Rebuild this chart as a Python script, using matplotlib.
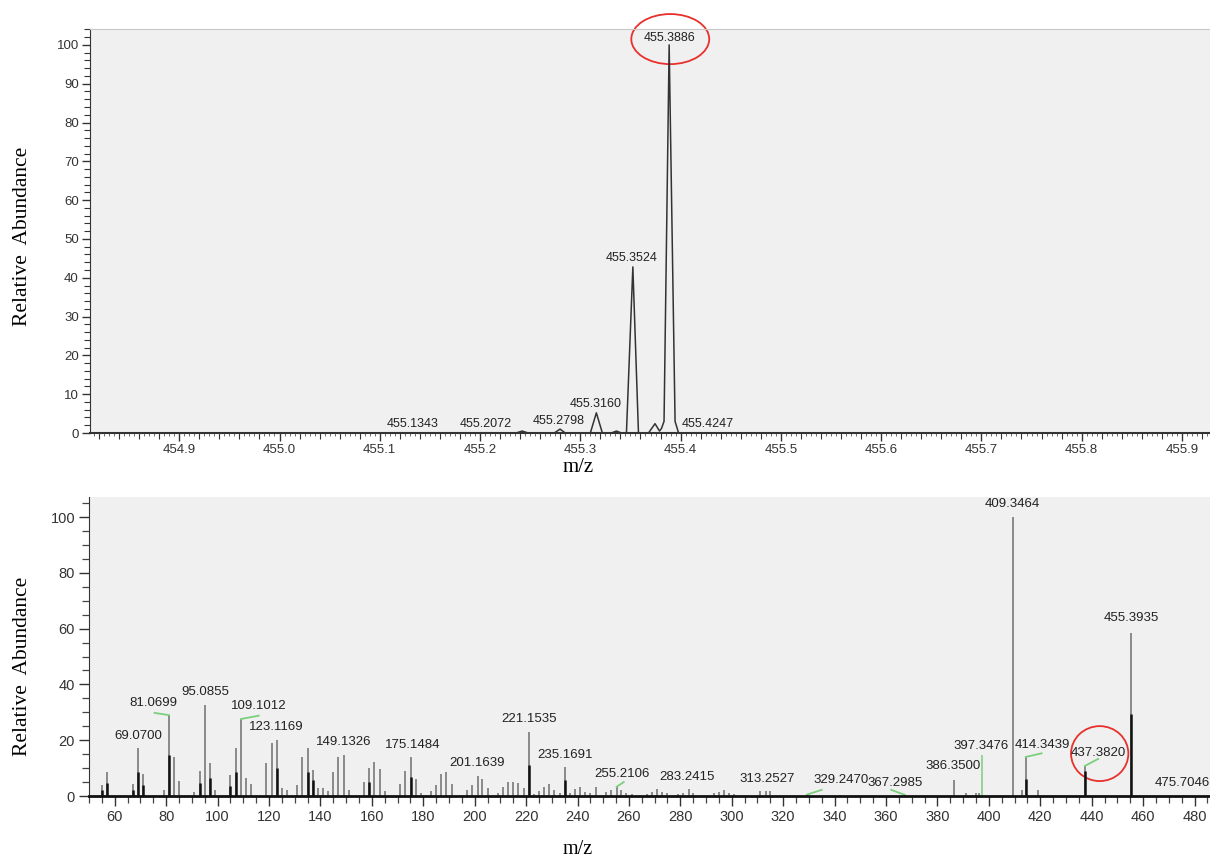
import matplotlib
matplotlib.use("Agg")
import matplotlib.pyplot as plt
import numpy as np
from matplotlib.patches import Ellipse
from matplotlib.ticker import MultipleLocator, FormatStrFormatter

# ---- full-scan profile (top panel), vertices ----
profile_mz = [454.811, 455.236, 455.242, 455.248, 455.274, 455.2798, 455.285,
              455.310, 455.3160, 455.322, 455.331, 455.336, 455.341, 455.346,
              455.3524, 455.358, 455.368, 455.3745, 455.379, 455.381, 455.3835,
              455.3886, 455.3945, 455.398, 455.928]
profile_int = [0, 0, 0.5, 0, 0, 1.0, 0,
               0, 5.2, 0, 0, 0.5, 0, 0,
               42.8, 0, 0, 2.4, 0.5, 1.2, 3.0,
               100, 3.0, 0, 0]

top_labels = ["455.1343", "455.2072", "455.2798", "455.3160", "455.3524",
              "455.3886", "455.4247"]
top_label_mz = [455.1327, 455.2054, 455.2781, 455.3150, 455.3510, 455.3887, 455.4268]
top_label_int = [2.3, 2.3, 3.2, 7.5, 45.1, 101.8, 2.3]

# ---- MS/MS spectrum (bottom panel) ----
ms2_mz = [55, 57, 67, 69.07, 71, 79, 81.07, 83, 85, 91, 93, 95.09, 97, 99,
          105, 107, 109.10, 111, 113, 119, 121, 123.12, 125, 127, 131, 133,
          135, 137, 139, 141, 143, 145, 147, 149.13, 151, 157, 159, 161, 163,
          165, 171, 173, 175.15, 177, 179, 183, 185, 187, 189, 191, 197, 199,
          201.16, 203, 205, 209, 211, 213, 215, 217, 219, 221.15, 223, 225,
          227, 229, 231, 233, 235.17, 237, 239, 241, 243, 245, 247, 251, 253,
          255.21, 257, 259, 261, 267, 269, 271, 273, 275, 279, 281, 283.24,
          285, 293, 295, 297, 299, 301, 311, 313.25, 315, 329.25, 342, 367.30,
          386.35, 391, 395, 396, 409.35, 413, 414.34, 419, 437.38, 455.39,
          475.70]
ms2_int = [3.9, 8.6, 4.3, 17.1, 7.9, 2.2, 29.0, 13.9, 5.5, 1.6, 9.1, 32.7, 11.9, 2.2,
           7.4, 17.1, 27.6, 6.6, 4.3, 11.7, 18.9, 20.1, 2.7, 2.2, 3.9, 13.9,
           17.3, 9.3, 2.7, 2.7, 1.8, 8.7, 13.9, 14.6, 2.2, 4.9, 10.0, 12.1, 9.6,
           1.9, 4.3, 9.1, 13.9, 6.1, 1.0, 1.8, 3.9, 7.8, 8.6, 4.3, 2.2, 3.9,
           7.3, 6.1, 2.7, 1.0, 3.1, 4.9, 4.9, 4.5, 2.7, 23.1, 0.7, 1.9,
           3.3, 4.4, 2.2, 1.2, 10.3, 1.0, 2.4, 3.1, 1.6, 1.2, 3.1, 1.6, 2.2,
           3.3, 2.2, 1.0, 0.7, 0.7, 1.6, 2.4, 1.6, 1.0, 0.7, 1.2, 2.6,
           1.0, 1.0, 1.4, 2.2, 1.2, 0.7, 1.7, 1.7, 1.7, 0.5, 0.5, 0.4,
           5.7, 1.2, 1.2, 1.2, 100, 2.0, 14.0, 2.0, 10.8, 58.5,
           0.3]

# darker lower part of the sticks
dark_mz = [55, 57, 67, 69.07, 71, 81.07, 93, 97, 105, 107, 123.12, 135, 137,
           159, 175.15, 221.15, 235.17, 414.34, 437.38, 455.39]
dark_int = [2.0, 4.5, 2.0, 8.7, 4.0, 14.6, 4.5, 6.3, 3.6, 8.6, 9.9, 8.7, 5.7,
            5.0, 6.9, 11.0, 5.7, 6.2, 9.0, 29.3]

# green marker line at 397.3476
green_mz = [397.35]
green_int = [14.6]

ms2_labels = ["69.0700", "81.0699", "95.0855", "109.1012", "123.1169", "149.1326",
              "175.1484", "201.1639", "221.1535", "235.1691", "255.2106", "283.2415",
              "313.2527", "329.2470", "367.2985", "386.3500", "397.3476", "409.3464",
              "414.3439", "437.3820", "455.3935", "475.7046"]
ms2_label_mz = [69.0, 74.9, 95.2, 115.9, 122.9, 149.1, 176.0, 201.0, 221.0, 235.0,
                257.3, 282.7, 313.6, 342.5, 363.5, 386.1, 397.0, 409.0, 420.9,
                442.6, 455.4, 475.4]
ms2_label_int = [21.5, 33.3, 37.3, 32.3, 24.7, 19.4, 18.3, 11.8, 27.6, 14.7,
                 7.9, 6.8, 6.1, 5.7, 4.8, 10.8, 18.0, 104.7, 18.3, 15.5, 63.8, 4.8]

# green connectors: (peak m/z, peak height) -> (point under the label)
conn_from = [(81.07, 29.0), (109.10, 27.6), (255.21, 3.3), (329.25, 0.5),
             (367.30, 0.4), (414.34, 14.0), (437.38, 10.8)]
conn_to = [(75.5, 29.8), (116.0, 28.8), (258.0, 5.0), (335.0, 2.2),
           (362.0, 2.2), (420.5, 15.3), (442.5, 13.3)]

BG = "#f0f0f0"
SANS = ["Liberation Sans", "DejaVu Sans"]
SERIF = ["Liberation Serif", "DejaVu Serif"]

fig = plt.figure(figsize=(12.1, 8.57), dpi=100)

# ------------------------------------------------------------- top panel
ax1 = fig.add_axes([90 / 1210, 1 - 433 / 857, 1120 / 1210, 404 / 857])
ax1.set_facecolor(BG)
ax1.plot(profile_mz, profile_int, color="#333333", linewidth=1.1)
ax1.set_xlim(454.811, 455.928)
ax1.set_ylim(0, 104.1)
for lab, x, y in zip(top_labels, top_label_mz, top_label_int):
    ax1.text(x, y, lab, ha="center", va="center", fontsize=9, family=SANS,
             color="#222222")
ax1.add_patch(Ellipse((455.3897, 101.5), 0.0777, 12.9, fill=False,
                      edgecolor="#e8302c", linewidth=1.3, clip_on=False))
ax1.xaxis.set_major_locator(MultipleLocator(0.1))
ax1.xaxis.set_minor_locator(MultipleLocator(0.02))
ax1.yaxis.set_major_locator(MultipleLocator(10))
ax1.yaxis.set_minor_locator(MultipleLocator(2))
ax1.xaxis.set_major_formatter(FormatStrFormatter("%.1f"))
ax1.tick_params(axis="both", which="major", direction="out", length=6, width=1,
                labelsize=9.5, color="#333333", labelcolor="#333333", pad=2)
ax1.tick_params(axis="both", which="minor", direction="out", length=4, width=0.8,
                color="#333333")
sec = ax1.secondary_xaxis("bottom")
sec.set_xticks(np.arange(454.815, 455.93, 0.005))
sec.tick_params(length=2, width=0.6, color="#555555", labelbottom=False)
sec.spines["bottom"].set_visible(False)
for lab in ax1.get_xticklabels() + ax1.get_yticklabels():
    lab.set_family(SANS)
ax1.spines["right"].set_visible(False)
ax1.spines["top"].set_color("#c8c8c8")
ax1.spines["left"].set_color("#333333")
ax1.spines["bottom"].set_color("#333333")
ax1.spines["bottom"].set_linewidth(1.5)
ax1.set_xlabel("m/z", family=SERIF, fontsize=15)
ax1.xaxis.set_label_coords(0.4357, -0.062)
ax1.set_ylabel("Relative  Abundance", family=SERIF, fontsize=15.5)
ax1.yaxis.set_label_coords(-0.0518, 0.4876)

# ---------------------------------------------------------- bottom panel
ax2 = fig.add_axes([89 / 1210, 1 - 796 / 857, 1121 / 1210, 299 / 857])
ax2.set_facecolor(BG)
ax2.vlines(ms2_mz, 0, ms2_int, color="#6e6e6e", linewidth=1.1)
ax2.vlines(dark_mz, 0, dark_int, color="#111111", linewidth=1.8)
ax2.vlines(green_mz, 0, green_int, color="#8fd18f", linewidth=1.3)
for (x0, y0), (x1, y1) in zip(conn_from, conn_to):
    ax2.plot([x0, x1], [y0, y1], color="#7ccf7c", linewidth=1.3)
for lab, x, y in zip(ms2_labels, ms2_label_mz, ms2_label_int):
    ax2.text(x, y, lab, ha="center", va="center", fontsize=9.5, family=SANS,
             color="#222222", clip_on=False)
ax2.add_patch(Ellipse((443.1, 15.2), 22.3, 19.7, fill=False,
                      edgecolor="#e8302c", linewidth=1.3))
ax2.set_xlim(50, 486)
ax2.set_ylim(0, 107.2)
ax2.xaxis.set_major_locator(MultipleLocator(20))
ax2.xaxis.set_minor_locator(MultipleLocator(5))
ax2.yaxis.set_major_locator(MultipleLocator(20))
ax2.yaxis.set_minor_locator(MultipleLocator(5))
ax2.tick_params(axis="both", which="major", direction="out", length=7, width=1,
                labelsize=10.5, color="#333333", labelcolor="#333333", pad=3)
ax2.tick_params(axis="both", which="minor", direction="out", length=5, width=0.9,
                color="#444444")
for lab in ax2.get_xticklabels() + ax2.get_yticklabels():
    lab.set_family(SANS)
ax2.spines["right"].set_visible(False)
ax2.spines["top"].set_visible(False)
ax2.spines["left"].set_color("#333333")
ax2.spines["bottom"].set_color("#111111")
ax2.spines["bottom"].set_linewidth(2.0)
ax2.set_xlabel("m/z", family=SERIF, fontsize=14.5)
ax2.xaxis.set_label_coords(0.436, -0.148)
ax2.set_ylabel("Relative  Abundance", family=SERIF, fontsize=15.5)
ax2.yaxis.set_label_coords(-0.0508, 0.435)

fig.savefig("out.png", dpi=100, facecolor="white")
